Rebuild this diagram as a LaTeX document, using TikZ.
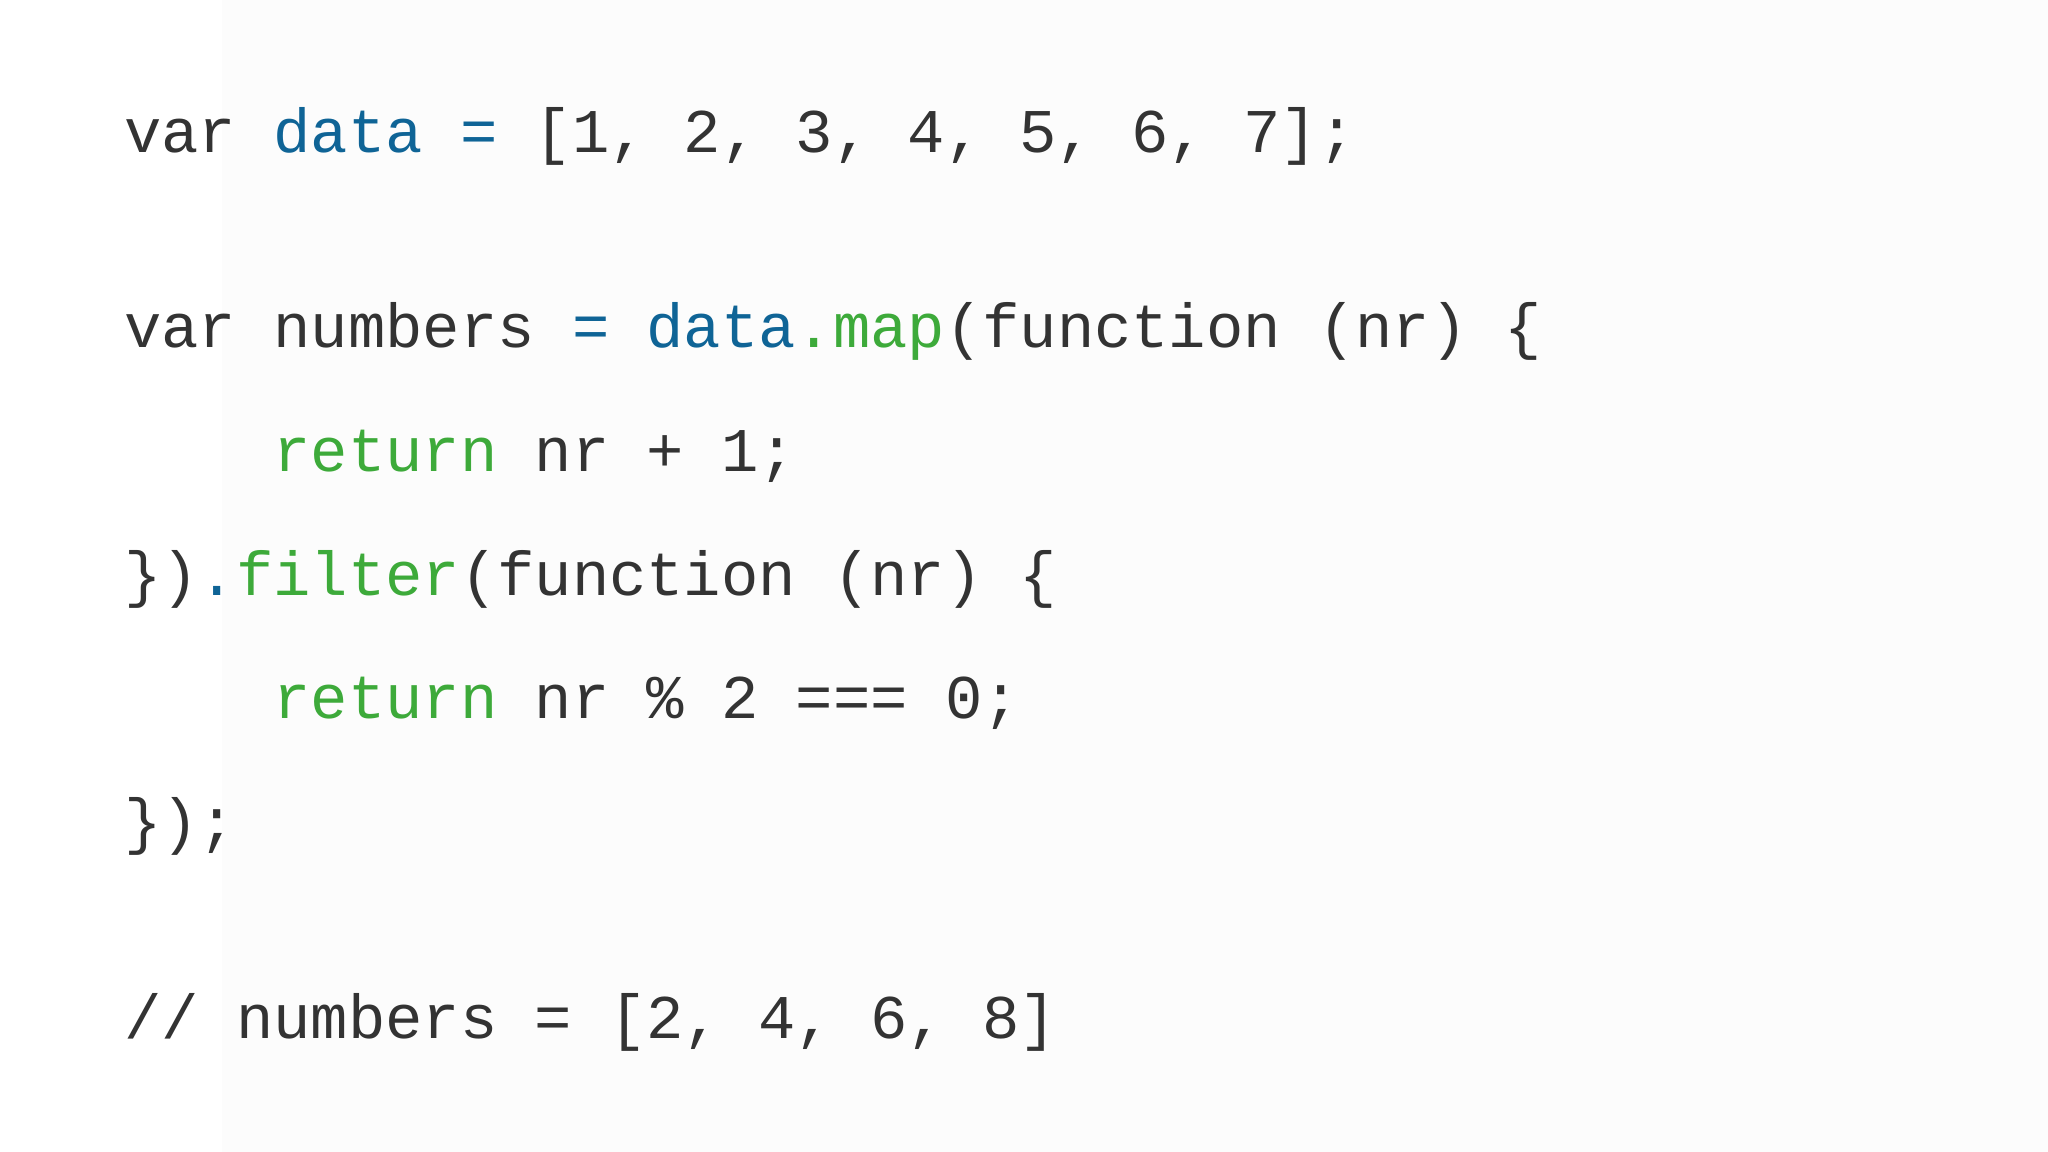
\documentclass[tikz,border=0pt]{standalone}
\usepackage{fontspec}
\setmonofont{Liberation Mono}
\definecolor{kw}{HTML}{333333}
\definecolor{bl}{HTML}{0F6496}
\definecolor{gr}{HTML}{3DAA3A}
\begin{document}
\begin{tikzpicture}[x=1pt,y=-1pt,
  code/.style={anchor=base west,inner sep=0pt,font=\ttfamily\fontsize{47.6}{50}\selectfont,text=kw}]
\fill[white] (0,0) rectangle (1568,882);
\fill[black!1] (170,0) rectangle (1568,882);
\useasboundingbox (0,0) rectangle (1568,882);
\node[code] (l1) at (95,117) {var \textcolor{bl}{data} \textcolor{bl}{=} [1, 2, 3, 4, 5, 6, 7];};
\node[code] (l2) at (95,266) {var numbers \textcolor{bl}{=} \textcolor{bl}{data}\textcolor{gr}{.map}(function (nr) \{};
\node[code] (l3) at (95,361) {\phantom{xxxx}\textcolor{gr}{return} nr + 1;};
\node[code] (l4) at (95,456) {\})\textcolor{bl}{.}\textcolor{gr}{filter}(function (nr) \{};
\node[code] (l5) at (95,550) {\phantom{xxxx}\textcolor{gr}{return} nr \% 2 === 0;};
\node[code] (l6) at (95,645) {\});};
\node[code] (l7) at (95,795) {// numbers = [2, 4, 6, 8]};
\end{tikzpicture}
\end{document}
